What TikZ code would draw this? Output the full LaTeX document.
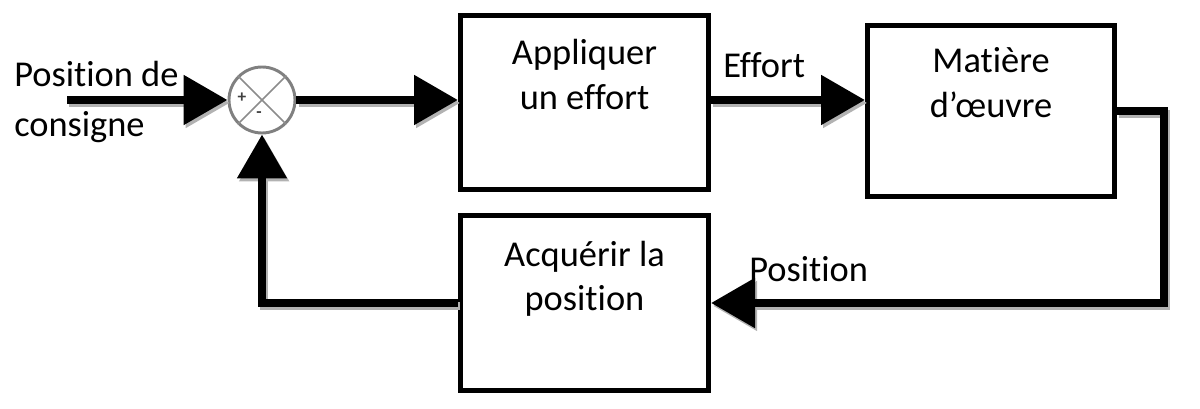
\documentclass[tikz,border=0pt]{standalone}
\usepackage{fontspec}
\setmainfont{Carlito}[RawFeature={-liga}]
\usetikzlibrary{arrows.meta}
\begin{document}
\begin{tikzpicture}[x=0.75pt,y=-0.75pt,
  conn/.style={line width=6.5pt, line join=miter, -{Triangle[length=33pt,width=36pt]},
    preaction={draw=black!30, line width=6.5pt, transform canvas={shift={(1.6pt,-2.2pt)}}}},
  blk/.style={draw, line width=3.75pt, rectangle, inner sep=0pt},
  txt/.style={inner sep=0pt, anchor=base, font=\fontsize{27.3}{33}\selectfont},
  txtl/.style={txt, anchor=base west},
  sgn/.style={inner sep=0pt, font=\bfseries\fontsize{13}{15}\selectfont, text=black!75}]
\useasboundingbox (0,0) rectangle (1200,409);

% blocks
\node[blk, minimum width=186pt, minimum height=130.5pt] (box1) at (584.5,102.5) {};
\node[blk, minimum width=185.25pt, minimum height=128.25pt] (box2) at (991,111) {};
\node[blk, minimum width=186pt, minimum height=131.25pt] (box3) at (584.5,303) {};

% summing junction
\node[circle, draw=black!50, line width=2.2pt, minimum size=49.5pt, inner sep=0pt] (sum) at (262,100) {};
\draw[black!45, line width=1.3pt] (sum.north west) -- (sum.south east);
\draw[black!45, line width=1.3pt] (sum.north east) -- (sum.south west);
\node[sgn] (plus) at (242,98) {+};
\node[sgn] (minus) at (259,115) {-};

% texts
\node[txtl] (in1) at (14,87) {Position de};
\node[txtl] (in2) at (14,137) {consigne};
\node[txt] (a1) at (584.5,65) {Appliquer};
\node[txt] (a2) at (584.5,110) {un effort};
\node[txt] (m1) at (991,73) {Matière};
\node[txt] (m2) at (991,118) {d’œuvre};
\node[txt] (q1) at (584.5,267) {Acquérir la};
\node[txt] (q2) at (584.5,311) {position};
\node[txtl] (eff) at (723,78) {Effort};
\node[txtl] (pos) at (749,282) {Position};

% connectors
\coordinate (in) at (67,100);
\coordinate (c1) at (1164,303);
\draw[conn] (in) -- (sum.west);
\draw[conn] (sum.east) -- (sum.east -| box1.west);
\draw[conn] (box1.east |- sum.center) -- (sum.center -| box2.west);
\draw[conn] (box2.east) -| (c1) -- (box3.east);
\draw[conn] (box3.west) -| (sum.south);
\end{tikzpicture}
\end{document}
